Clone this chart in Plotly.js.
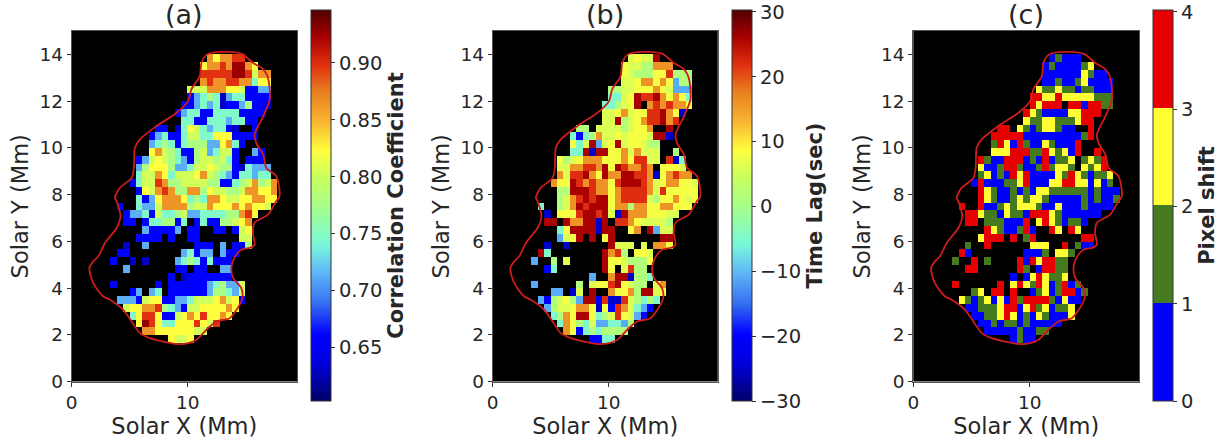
<!DOCTYPE html>
<html><head><meta charset="utf-8">
<script src="https://cdn.plot.ly/plotly-3.0.1.min.js"></script>
<style>html,body{margin:0;padding:0;background:#fff}#c{width:1223px;height:442px}</style></head>
<body><div id="c"></div>
<script>
// Cell rows, top (row 41) to bottom (row 5). Each: "firstColumn digits"; '.' = masked, digit = level index.
const corrRows = ["21 767788","20 677879976","20 88888998577","20 78778877366","18 5557776651122","18 1234302331111","17 11232301124110","16 12331133331111","17 331133323311","13 11.0365323310..1","12 12311355336661111","12 234313444226731","12 67543114523551..21","10 1256543214554531.111","10 246664223556544103222","10 355763555675432133233","9 13558744555544113457457","10 1657874477465544577667","10 3126777634377655667766","7 1..322577774557666767665","8 122315334522333344786","8 11.1334413.131144567","11 211112.11..11.156","10 1111.1..11......55","8 0..2.......111.2.114","7 11........23122.211","6 1..0.0....234313111","8 2.......11.11..22","15 1.01111111","6 1......1.111111234225","9 12.23.111111244325","7 22215661122355567561","8 566778432155666676","9 3688611567686676","10 6986336668658","11 7766666655","15 6556"];
const lagRows = ["21 56559","20 65544777","20 65444668444","20 55677676244","18 4455666765222","18 3356988976763","17 334569.7878776","17 5567566889760","17 559456788978","13 44.555545667..9","12 3134755656665990","12 63592569566544","12 33909966757555..4","10 6456777666768855.803","10 557788796987787.6665","10 758897697799887067877","9 76698787768999875677665","10 4499987767888875866666","10 4578989967888854667656","7 3..457989996774776677666","8 0.6668998950977766655","8 99.9779909.887655554","10 369999099..67.9255","10 2569.9.69.......99","8 0..0......9555.5.776","7 93........9784.665","6 2..4.5.....96654446","8 13.......96.5844","15 2..7990443","6 2......4.566896544.57","9 22.05.9..766749956","7 2145642991800854343","8 24556776061875321","9 347699634586521","10 376435223324","11 7613434444","15 1133"];
const shiftRows = ["21 01000","20 01000012","20 0000002100","20 00100120000","19 211211011000","18 3322322222111","18 32333.3303311","17 321000022333","17 21122111233","13 33.210122100..3","12 3333300000000013","12 13203100210003","12 22233311321203..3","10 310033301030112.1213","10 200133100131221.2123","10 120103230000213210112","9 0300011230002233220201","10 3210010102211111101000","10 3210012122100000101001","7 3..300121222100200010000","8 332110211033321000000","8 33.1110003.23210110","11 32100130..32.32","10 2333.3.13.......33","8 1..3......222..3.100","7 30........0001.221","6 1..3.1....30323311","8 33......31.03311","15 0.0232112","6 3......3.23213201301","9 12.33.3..012013301","7 2101202031333310200","8 00111233023120112","9 0011232010210002","10 0010110100000","11 0000010011","15 0100"];
const corrLevels = [0.630,0.661,0.713,0.747,0.778,0.803,0.823,0.864,0.898,0.926];
const lagLevels = [-25,-20,-11,-5,1.5,6,8,16,22,26];
const shiftLevels = [0.5,1.5,2.5,3.5];
const topRow = 41, nRows = 45, nCols = 35;
const xMax = 19.4, yMax = 15;
// Boundary of the region, in Mm
const edgeX = [12.46,14.6,15.6,16.5,16.9,17.05,16.5,15.76,15.9,16.5,16.76,17.6,17.9,17.6,16.9,15.75,15.6,15.76,15.47,14.6,14.0,13.75,13.9,14.6,14.7,14.2,13.6,12.46,11.75,10.75,10.03,8.9,7.88,6.73,5.87,5.16,4.44,3.3,2.72,1.86,1.52,1.86,2.29,2.87,3.87,4.2,3.87,3.72,4.15,5.16,5.36,5.44,5.87,7.3,9.03,10.03,10.3,11.03,11.17,11.66,12.46];
const edgeY = [14.1,14.03,13.64,13.36,13.0,12.07,11.36,10.57,10.2,9.7,9.14,8.8,7.93,7.71,7.14,6.79,6.36,5.86,5.74,5.64,5.29,4.86,4.43,4.0,3.57,3.07,2.71,2.57,2.29,1.79,1.64,1.61,1.71,1.86,2.07,2.57,3.07,3.5,3.64,4.21,4.86,5.14,5.36,5.93,6.57,7.07,7.71,7.86,8.29,8.71,9.2,10,10.36,10.93,11.5,12,12.5,13.07,13.64,14,14.1];
const panelNames = ["(a)","(b)","(c)"];
const barTitles = ["Correlation Coefficient","Time Lag(sec)","Pixel shift"];
const corrTicks = [0.65,0.70,0.75,0.80,0.85,0.90];
const lagTicks = [-30,-20,-10,0,10,20,30];
const lagTickLabels = ["\u221230","\u221220","\u221210","0","10","20","30"];
const shiftTicks = [0,1,2,3,4];
const yTicks = [0,2,4,6,8,10,12,14];
const xTicks = [0,10];
const xLabel = "Solar X (Mm)", yLabel = "Solar Y (Mm)";

function grid(rows, levels){
  const z = [];
  for(let r=0;r<nRows;r++) z.push(new Array(nCols).fill(null));
  rows.forEach((s,i)=>{
    const [start,digits] = s.split(" ");
    const row = z[topRow-i];
    [...digits].forEach((ch,k)=>{ if(ch!==".") row[+start+k]=levels[+ch]; });
  });
  return z;
}
const W=1223,H=442,FONT="DejaVu Sans, sans-serif",TXT="#262626";
const plotL=[71.7,492.7,913.3], plotW=[225.3,225,226], plotT=31, plotB=381.5;
const barL=[311,732,1153], barW=20, barT=10, barB=401;
const jet=[[0,"#00006a"],[0.10,"#0000e0"],[0.17,"#0000ff"],[0.25,"#3570f0"],[0.33,"#60b8f8"],[0.40,"#78f8d8"],[0.5,"#a8ff88"],[0.57,"#c8ff60"],[0.64,"#ffff40"],[0.72,"#f8b030"],[0.79,"#e88020"],[0.86,"#e03010"],[0.93,"#a80000"],[1,"#500000"]];
const steps=[[0,"#0000ff"],[0.25,"#0000ff"],[0.25,"#467a1e"],[0.5,"#467a1e"],[0.5,"#ffff33"],[0.75,"#ffff33"],[0.75,"#e60000"],[1,"#e60000"]];
function bar(i,extra){
  return Object.assign({
    thickness:barW,thicknessmode:"pixels",len:barB-barT,lenmode:"pixels",
    x:barL[i]/W,xanchor:"left",xpad:0,y:1-barB/H,yanchor:"bottom",ypad:0,
    outlinewidth:1,outlinecolor:"#333",ticks:"outside",ticklen:4,tickwidth:1,tickcolor:"#333",
    tickfont:{family:FONT,size:19.5,color:TXT},
    title:{text:"<b>"+barTitles[i]+"</b>",side:"right",font:{family:FONT,size:21,color:TXT}}
  },extra);
}
const heat=[
 {z:grid(corrRows,corrLevels),zmin:0.603,zmax:0.9465,colorscale:jet,colorbar:bar(0,{tickmode:"array",tickvals:corrTicks,ticktext:corrTicks.map(v=>v.toFixed(2))})},
 {z:grid(lagRows,lagLevels),zmin:-30,zmax:30.3,colorscale:jet,colorbar:bar(1,{tickmode:"array",tickvals:lagTicks,ticktext:lagTickLabels})},
 {z:grid(shiftRows,shiftLevels),zmin:0,zmax:4.02,colorscale:steps,colorbar:bar(2,{tickmode:"array",tickvals:shiftTicks,ticktext:shiftTicks.map(String)})}
];
const data=[],layout={width:W,height:H,margin:{l:0,r:0,t:0,b:0},paper_bgcolor:"#fff",showlegend:false,annotations:[]};
heat.forEach((h,i)=>{
  const n=i===0?"":String(i+1);
  data.push(Object.assign(h,{type:"heatmap",x0:xMax/nCols/2,dx:xMax/nCols,y0:yMax/nRows/2,dy:yMax/nRows,xaxis:"x"+n,yaxis:"y"+n,hoverongaps:false}));
  data.push({type:"scatter",mode:"lines",x:edgeX,y:edgeY,xaxis:"x"+n,yaxis:"y"+n,line:{color:"#cc1c1c",width:1.8,shape:"spline",smoothing:0.8},hoverinfo:"skip"});
  const ax={showgrid:false,zeroline:false,showline:true,mirror:true,linecolor:"#555",linewidth:1,ticks:"outside",ticklen:4,tickcolor:"#333",tickfont:{family:FONT,size:18.5,color:TXT}};
  layout["xaxis"+n]=Object.assign({},ax,{domain:[plotL[i]/W,(plotL[i]+plotW[i])/W],range:[0,xMax],tickmode:"array",tickvals:xTicks,anchor:"y"+n,title:{text:xLabel,font:{family:FONT,size:22.5,color:TXT},standoff:4}});
  layout["yaxis"+n]=Object.assign({},ax,{domain:[1-plotB/H,1-plotT/H],range:[0,yMax],tickmode:"array",tickvals:yTicks,anchor:"x"+n,title:{text:yLabel,font:{family:FONT,size:22.5,color:TXT},standoff:4}});
  layout.plot_bgcolor="#000";
  layout.annotations.push({text:panelNames[i],xref:"paper",yref:"paper",x:(plotL[i]+plotW[i]/2)/W,y:1-15/H,xanchor:"center",yanchor:"middle",showarrow:false,font:{family:FONT,size:27,color:TXT}});
});
Plotly.newPlot("c",data,layout,{staticPlot:true,displayModeBar:false});
</script></body></html>
